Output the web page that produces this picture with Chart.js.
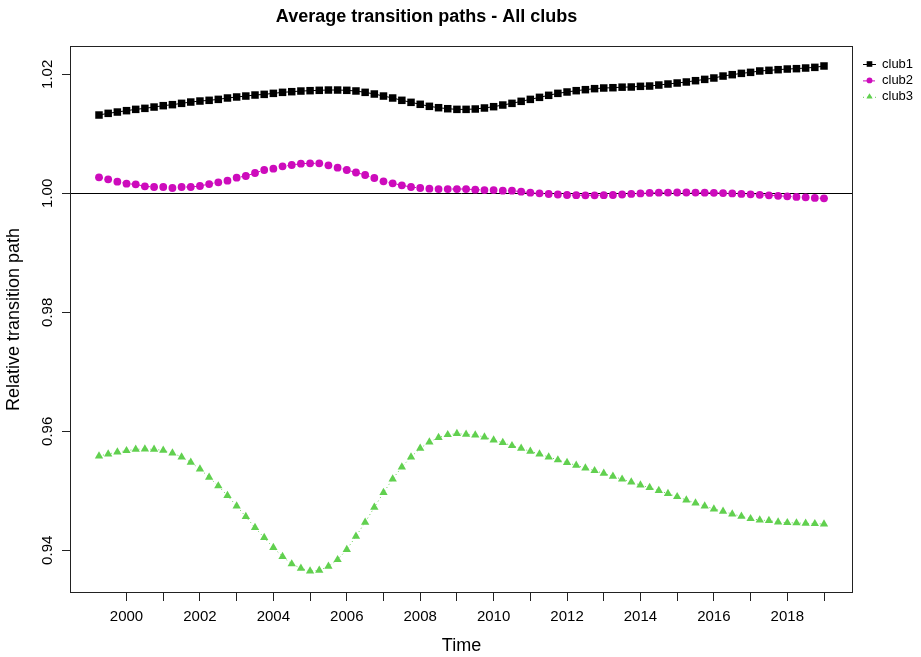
<!DOCTYPE html>
<html>
<head>
<meta charset="utf-8">
<title>Average transition paths - All clubs</title>
<script src="https://cdn.jsdelivr.net/npm/chart.js@4/dist/chart.umd.min.js"></script>
<style>
  html, body { margin: 0; padding: 0; background: #ffffff; }
  #wrap { width: 921px; height: 657px; }
</style>
</head>
<body>
<div id="wrap"><canvas id="chart" width="921" height="657"></canvas></div>
<script>
// Quarterly time index (decimal years)
const quarters = [
  1999.25, 1999.5, 1999.75,
  2000, 2000.25, 2000.5, 2000.75, 2001, 2001.25, 2001.5, 2001.75,
  2002, 2002.25, 2002.5, 2002.75, 2003, 2003.25, 2003.5, 2003.75,
  2004, 2004.25, 2004.5, 2004.75, 2005, 2005.25, 2005.5, 2005.75,
  2006, 2006.25, 2006.5, 2006.75, 2007, 2007.25, 2007.5, 2007.75,
  2008, 2008.25, 2008.5, 2008.75, 2009, 2009.25, 2009.5, 2009.75,
  2010, 2010.25, 2010.5, 2010.75, 2011, 2011.25, 2011.5, 2011.75,
  2012, 2012.25, 2012.5, 2012.75, 2013, 2013.25, 2013.5, 2013.75,
  2014, 2014.25, 2014.5, 2014.75, 2015, 2015.25, 2015.5, 2015.75,
  2016, 2016.25, 2016.5, 2016.75, 2017, 2017.25, 2017.5, 2017.75,
  2018, 2018.25, 2018.5, 2018.75, 2019
];

const club1 = [
  1.01316, 1.01344, 1.01366, 1.01389, 1.01411, 1.01428, 1.01450, 1.01473,
  1.01490, 1.01512, 1.01534, 1.01551, 1.01563, 1.01579, 1.01602, 1.01619,
  1.01635, 1.01652, 1.01663, 1.01680, 1.01697, 1.01708, 1.01719, 1.01725,
  1.01731, 1.01736, 1.01736, 1.01731, 1.01720, 1.01697, 1.01669, 1.01635,
  1.01602, 1.01563, 1.01529, 1.01496, 1.01462, 1.01439, 1.01422, 1.01411,
  1.01411, 1.01417, 1.01434, 1.01456, 1.01484, 1.01512, 1.01546, 1.01579,
  1.01613, 1.01647, 1.01680, 1.01703, 1.01725, 1.01742, 1.01759, 1.01770,
  1.01775, 1.01784, 1.01787, 1.01798, 1.01803, 1.01820, 1.01837, 1.01854,
  1.01871, 1.01893, 1.01915, 1.01938, 1.01971, 1.01994, 1.02016, 1.02033,
  1.02056, 1.02067, 1.02078, 1.02089, 1.02095, 1.02106, 1.02117, 1.02140
];

const club2 = [
  1.00268, 1.00235, 1.00196, 1.00162, 1.00151, 1.00117, 1.00106, 1.00106,
  1.00089, 1.00106, 1.00106, 1.00123, 1.00156, 1.00184, 1.00212, 1.00263,
  1.00291, 1.00341, 1.00392, 1.00414, 1.00453, 1.00476, 1.00498, 1.00504,
  1.00504, 1.00470, 1.00431, 1.00392, 1.00350, 1.00308, 1.00257, 1.00201,
  1.00168, 1.00134, 1.00106, 1.00089, 1.00078, 1.00072, 1.00072, 1.00072,
  1.00072, 1.00061, 1.00055, 1.00055, 1.00044, 1.00044, 1.00027, 1.00011,
  0.99999, 0.99988, 0.99980, 0.99972, 0.99968, 0.99966, 0.99966, 0.99968,
  0.99972, 0.99980, 0.99990, 0.99998, 1.00006, 1.00011, 1.00013, 1.00014,
  1.00014, 1.00013, 1.00011, 1.00008, 1.00004, 0.99998, 0.99990, 0.99983,
  0.99974, 0.99966, 0.99958, 0.99949, 0.99940, 0.99932, 0.99922, 0.99915
];

const club3 = [
  0.95585, 0.95618, 0.95652, 0.95674, 0.95697, 0.95702, 0.95697, 0.95680,
  0.95635, 0.95568, 0.95478, 0.95366, 0.95226, 0.95081, 0.94918, 0.94744,
  0.94565, 0.94380, 0.94212, 0.94044, 0.93893, 0.93770, 0.93697, 0.93652,
  0.93663, 0.93730, 0.93842, 0.94013, 0.94235, 0.94470, 0.94722, 0.94969,
  0.95198, 0.95400, 0.95568, 0.95714, 0.95820, 0.95893, 0.95943, 0.95960,
  0.95949, 0.95938, 0.95904, 0.95854, 0.95809, 0.95758, 0.95714, 0.95663,
  0.95618, 0.95568, 0.95518, 0.95473, 0.95428, 0.95383, 0.95338, 0.95294,
  0.95243, 0.95195, 0.95148, 0.95095, 0.95053, 0.95002, 0.94952, 0.94901,
  0.94845, 0.94795, 0.94744, 0.94694, 0.94655, 0.94610, 0.94571, 0.94531,
  0.94509, 0.94498, 0.94475, 0.94464, 0.94459, 0.94453, 0.94447, 0.94442
];

const seriesNames = ['club1', 'club2', 'club3'];
const yearTicks = [2000, 2001, 2002, 2003, 2004, 2005, 2006, 2007, 2008, 2009,
                   2010, 2011, 2012, 2013, 2014, 2015, 2016, 2017, 2018, 2019];
const valueTicks = [0.94, 0.96, 0.98, 1.00, 1.02];
const referenceLevel = 1.00;

const FONT = "'Liberation Sans', Arial, Helvetica, sans-serif";
const INK = '#222222';

const toPoints = (vals) => vals.map((v, i) => ({ x: quarters[i], y: v }));

const styles = [
  { color: '#000000', pointStyle: 'rect',     radius: 5.3, dash: [] },
  { color: '#CD0BBC', pointStyle: 'circle',   radius: 3.9, dash: [4, 4] },
  { color: '#61D04F', pointStyle: 'triangle', radius: 4.8, dash: [1, 3] }
];

const seriesValues = [club1, club2, club3];

const datasets = seriesValues.map((vals, k) => ({
  label: seriesNames[k],
  data: toPoints(vals),
  borderColor: styles[k].color,
  backgroundColor: styles[k].color,
  borderWidth: 1,
  borderDash: styles[k].dash,
  pointStyle: styles[k].pointStyle,
  pointRadius: styles[k].radius,
  pointBackgroundColor: styles[k].color,
  pointBorderWidth: 0,
  tension: 0,
  showLine: true
}));

// Box around the plotting region and the horizontal reference line at 1.00
const framePlugin = {
  id: 'frame',
  beforeDatasetsDraw(chart) {
    const { ctx, chartArea: a, scales } = chart;
    const yy = Math.round(scales.y.getPixelForValue(referenceLevel)) + 0.5;
    ctx.save();
    ctx.strokeStyle = '#000000';
    ctx.lineWidth = 1;
    ctx.beginPath();
    ctx.moveTo(a.left, yy);
    ctx.lineTo(a.right, yy);
    ctx.stroke();
    ctx.restore();
  },
  afterDraw(chart) {
    const { ctx, chartArea: a } = chart;
    ctx.save();
    ctx.strokeStyle = INK;
    ctx.lineWidth = 1;
    ctx.strokeRect(a.left + 0.5, a.top + 0.5, a.right - a.left - 1, a.bottom - a.top - 1);
    ctx.restore();
  }
};

// Legend in the right margin: short line segment with the marker, then the name
const sideLegend = {
  id: 'sideLegend',
  afterDraw(chart) {
    const { ctx, chartArea: a } = chart;
    const x0 = a.right + 10, x1 = a.right + 23, tx = a.right + 29;
    const rowTop = a.top + 18, rowGap = 16.4;
    ctx.save();
    chart.data.datasets.forEach((ds, k) => {
      const cy = rowTop + k * rowGap;
      ctx.strokeStyle = ds.borderColor;
      ctx.lineWidth = 1;
      ctx.setLineDash(ds.borderDash);
      ctx.beginPath();
      ctx.moveTo(x0, cy + 0.5);
      ctx.lineTo(x1, cy + 0.5);
      ctx.stroke();
      ctx.setLineDash([]);
      ctx.fillStyle = ds.pointBackgroundColor;
      Chart.helpers.drawPoint(ctx, {
        pointStyle: ds.pointStyle,
        radius: ds.pointRadius * 0.75,
        rotation: 0,
        borderWidth: 0
      }, (x0 + x1) / 2, cy);
      ctx.fillStyle = '#000000';
      ctx.font = '13px ' + FONT;
      ctx.textAlign = 'left';
      ctx.textBaseline = 'middle';
      ctx.fillText(ds.label, tx, cy);
    });
    ctx.restore();
  }
};

new Chart(document.getElementById('chart'), {
  type: 'scatter',
  data: { datasets },
  plugins: [framePlugin, sideLegend],
  options: {
    responsive: false,
    animation: false,
    devicePixelRatio: 1,
    layout: { padding: { top: 0, right: 68, bottom: 0, left: 0 } },
    plugins: {
      legend: { display: false },
      tooltip: { enabled: false },
      title: {
        display: true,
        text: 'Average transition paths - All clubs',
        color: '#000000',
        font: { family: FONT, size: 18, weight: 'bold' },
        padding: { top: 6, bottom: 18.4 }
      }
    },
    scales: {
      x: {
        type: 'linear',
        min: 1998.46,
        max: 2019.79,
        afterFit(scale) { scale.height = 64; },
        afterBuildTicks(scale) { scale.ticks = yearTicks.map(v => ({ value: v })); },
        border: { display: false },
        grid: {
          display: true,
          drawOnChartArea: false,
          drawTicks: true,
          tickLength: 8,
          color: INK,
          lineWidth: 1
        },
        ticks: {
          autoSkip: false,
          maxRotation: 0,
          minRotation: 0,
          padding: 6.5,
          color: '#000000',
          font: { family: FONT, size: 15 },
          callback: (v) => (v % 2 === 0 ? String(v) : '')
        },
        title: {
          display: true,
          text: 'Time',
          color: '#000000',
          font: { family: FONT, size: 18 },
          padding: { top: 0, bottom: 0 }
        }
      },
      y: {
        type: 'linear',
        min: 0.93282,
        max: 1.02476,
        afterFit(scale) { scale.width = 70; },
        afterBuildTicks(scale) { scale.ticks = valueTicks.map(v => ({ value: v })); },
        border: { display: false },
        grid: {
          display: true,
          drawOnChartArea: false,
          drawTicks: true,
          tickLength: 8,
          color: INK,
          lineWidth: 1
        },
        ticks: {
          minRotation: 90,
          maxRotation: 90,
          crossAlign: 'center',
          padding: 0,
          color: '#000000',
          font: { family: FONT, size: 15 },
          callback: (v) => Number(v).toFixed(2)
        },
        title: {
          display: true,
          text: 'Relative transition path',
          color: '#000000',
          font: { family: FONT, size: 18 },
          padding: { top: 3, bottom: 0 }
        }
      }
    }
  }
});
</script>
</body>
</html>
